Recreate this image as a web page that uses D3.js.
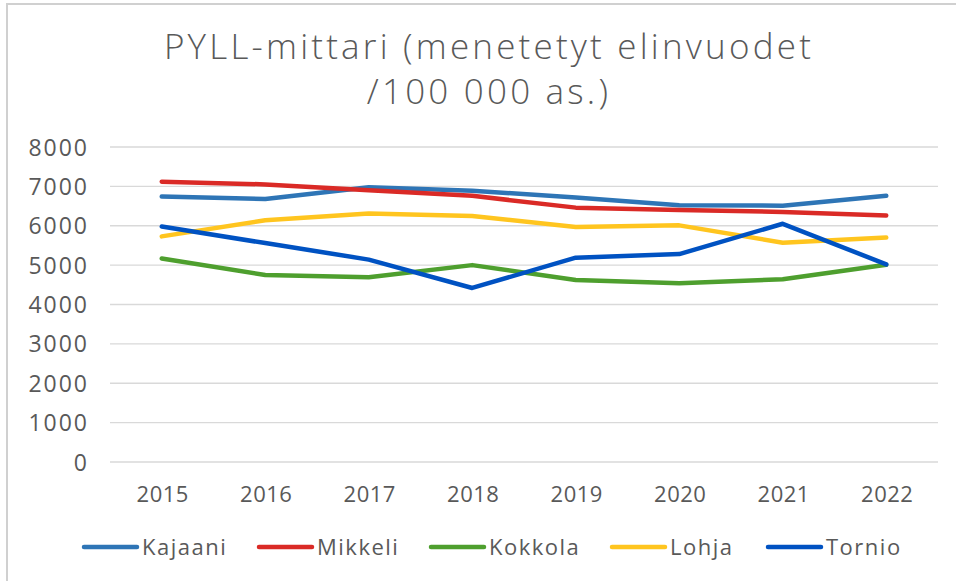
<!DOCTYPE html>
<html><head><meta charset="utf-8">
<script src="https://cdn.jsdelivr.net/npm/d3@7"></script>
<style>
html,body{margin:0;padding:0;background:#fff;}
svg{display:block;}
text{font-family:"Open Sans","DejaVu Sans",sans-serif;}
</style></head>
<body>
<script>
const years = ["2015","2016","2017","2018","2019","2020","2021","2022"];
const kajaani = [6740, 6680, 6980, 6890, 6720, 6520, 6510, 6760];
const mikkeli = [7120, 7050, 6900, 6760, 6460, 6400, 6350, 6260];
const kokkola = [5170, 4750, 4690, 5000, 4620, 4540, 4640, 5010];
const lohja   = [5730, 6140, 6310, 6250, 5970, 6010, 5570, 5700];
const tornio  = [5980, 5560, 5140, 4420, 5190, 5280, 6050, 5020];
const seriesNames = ["Kajaani","Mikkeli","Kokkola","Lohja","Tornio"];
const seriesColors = ["#2E75B6","#DA2A26","#4E9F2E","#FFC51F","#0052C2"];
const yTicks = [0,1000,2000,3000,4000,5000,6000,7000,8000];
const titleLines = ["PYLL-mittari (menetetyt elinvuodet", "/100 000 as.)"];

const seriesData = [kajaani, mikkeli, kokkola, lohja, tornio];
const W = 956, H = 581;
const svg = d3.select("body").append("svg").attr("width", W).attr("height", H);

// chart frame (only top/left visible in reference)
svg.append("rect").attr("x", 7).attr("y", 4).attr("width", W + 10).attr("height", H + 10)
  .attr("fill", "#fff").attr("stroke", "#D0D0D0").attr("stroke-width", 2);

// title
svg.append("g").selectAll("text").data(titleLines).join("text")
  .attr("x", 489).attr("y", (d,i) => 59 + i*45)
  .attr("text-anchor", "middle").attr("font-size", 35).attr("font-weight", 300)
  .attr("letter-spacing", 3.2)
  .attr("fill", "#595959").text(d => d);

const x = d3.scaleBand().domain(years).range([110, 938]);
const y = d3.scaleLinear().domain([0, 8000]).range([462, 147]);

// grid
svg.append("g").selectAll("line").data(yTicks).join("line")
  .attr("x1", 110).attr("x2", 938)
  .attr("y1", d => y(d)).attr("y2", d => y(d))
  .attr("stroke", "#D9D9D9").attr("stroke-width", 1.3);

// y axis labels
const yAxis = d3.axisLeft(y).tickValues(yTicks).tickSize(0).tickPadding(0).tickFormat(d3.format("d"));
const yg = svg.append("g").attr("transform", "translate(89,0)").call(yAxis);
yg.select(".domain").remove();
yg.selectAll("text").attr("font-size", 23).attr("fill", "#595959")
  .attr("letter-spacing", 2)
  .attr("font-family", "'Open Sans', sans-serif").attr("dy", "0.35em");

// x axis labels
const xAxis = d3.axisBottom(x).tickSize(0).tickPadding(0);
const xg = svg.append("g").attr("transform", "translate(1,494)").call(xAxis);
xg.select(".domain").remove();
xg.selectAll("text").attr("font-size", 22).attr("fill", "#595959")
  .attr("letter-spacing", 0.5)
  .attr("font-family", "'Open Sans', sans-serif").attr("dy", "0.35em");

// lines
const line = d3.line().x((d,i) => x(years[i]) + x.bandwidth()/2).y(d => y(d));
svg.append("g").selectAll("path").data(seriesData).join("path")
  .attr("d", d => line(d)).attr("fill", "none")
  .attr("stroke", (d,i) => seriesColors[i]).attr("stroke-width", 4.5)
  .attr("stroke-linecap", "round").attr("stroke-linejoin", "round");

// legend
const legendX = [84, 259, 431, 612, 768];
const lg = svg.append("g").selectAll("g").data(seriesNames).join("g")
  .attr("transform", (d,i) => `translate(${legendX[i]},547)`);
lg.append("line").attr("x1", 0).attr("x2", 53).attr("y1", 0).attr("y2", 0)
  .attr("stroke", (d,i) => seriesColors[i]).attr("stroke-width", 4.5).attr("stroke-linecap", "round");
lg.append("text").attr("x", 58).attr("y", 0).attr("dy", "0.35em")
  .attr("font-size", 22).attr("letter-spacing", 1.5).attr("fill", "#595959").text(d => d);
</script>
</body></html>
